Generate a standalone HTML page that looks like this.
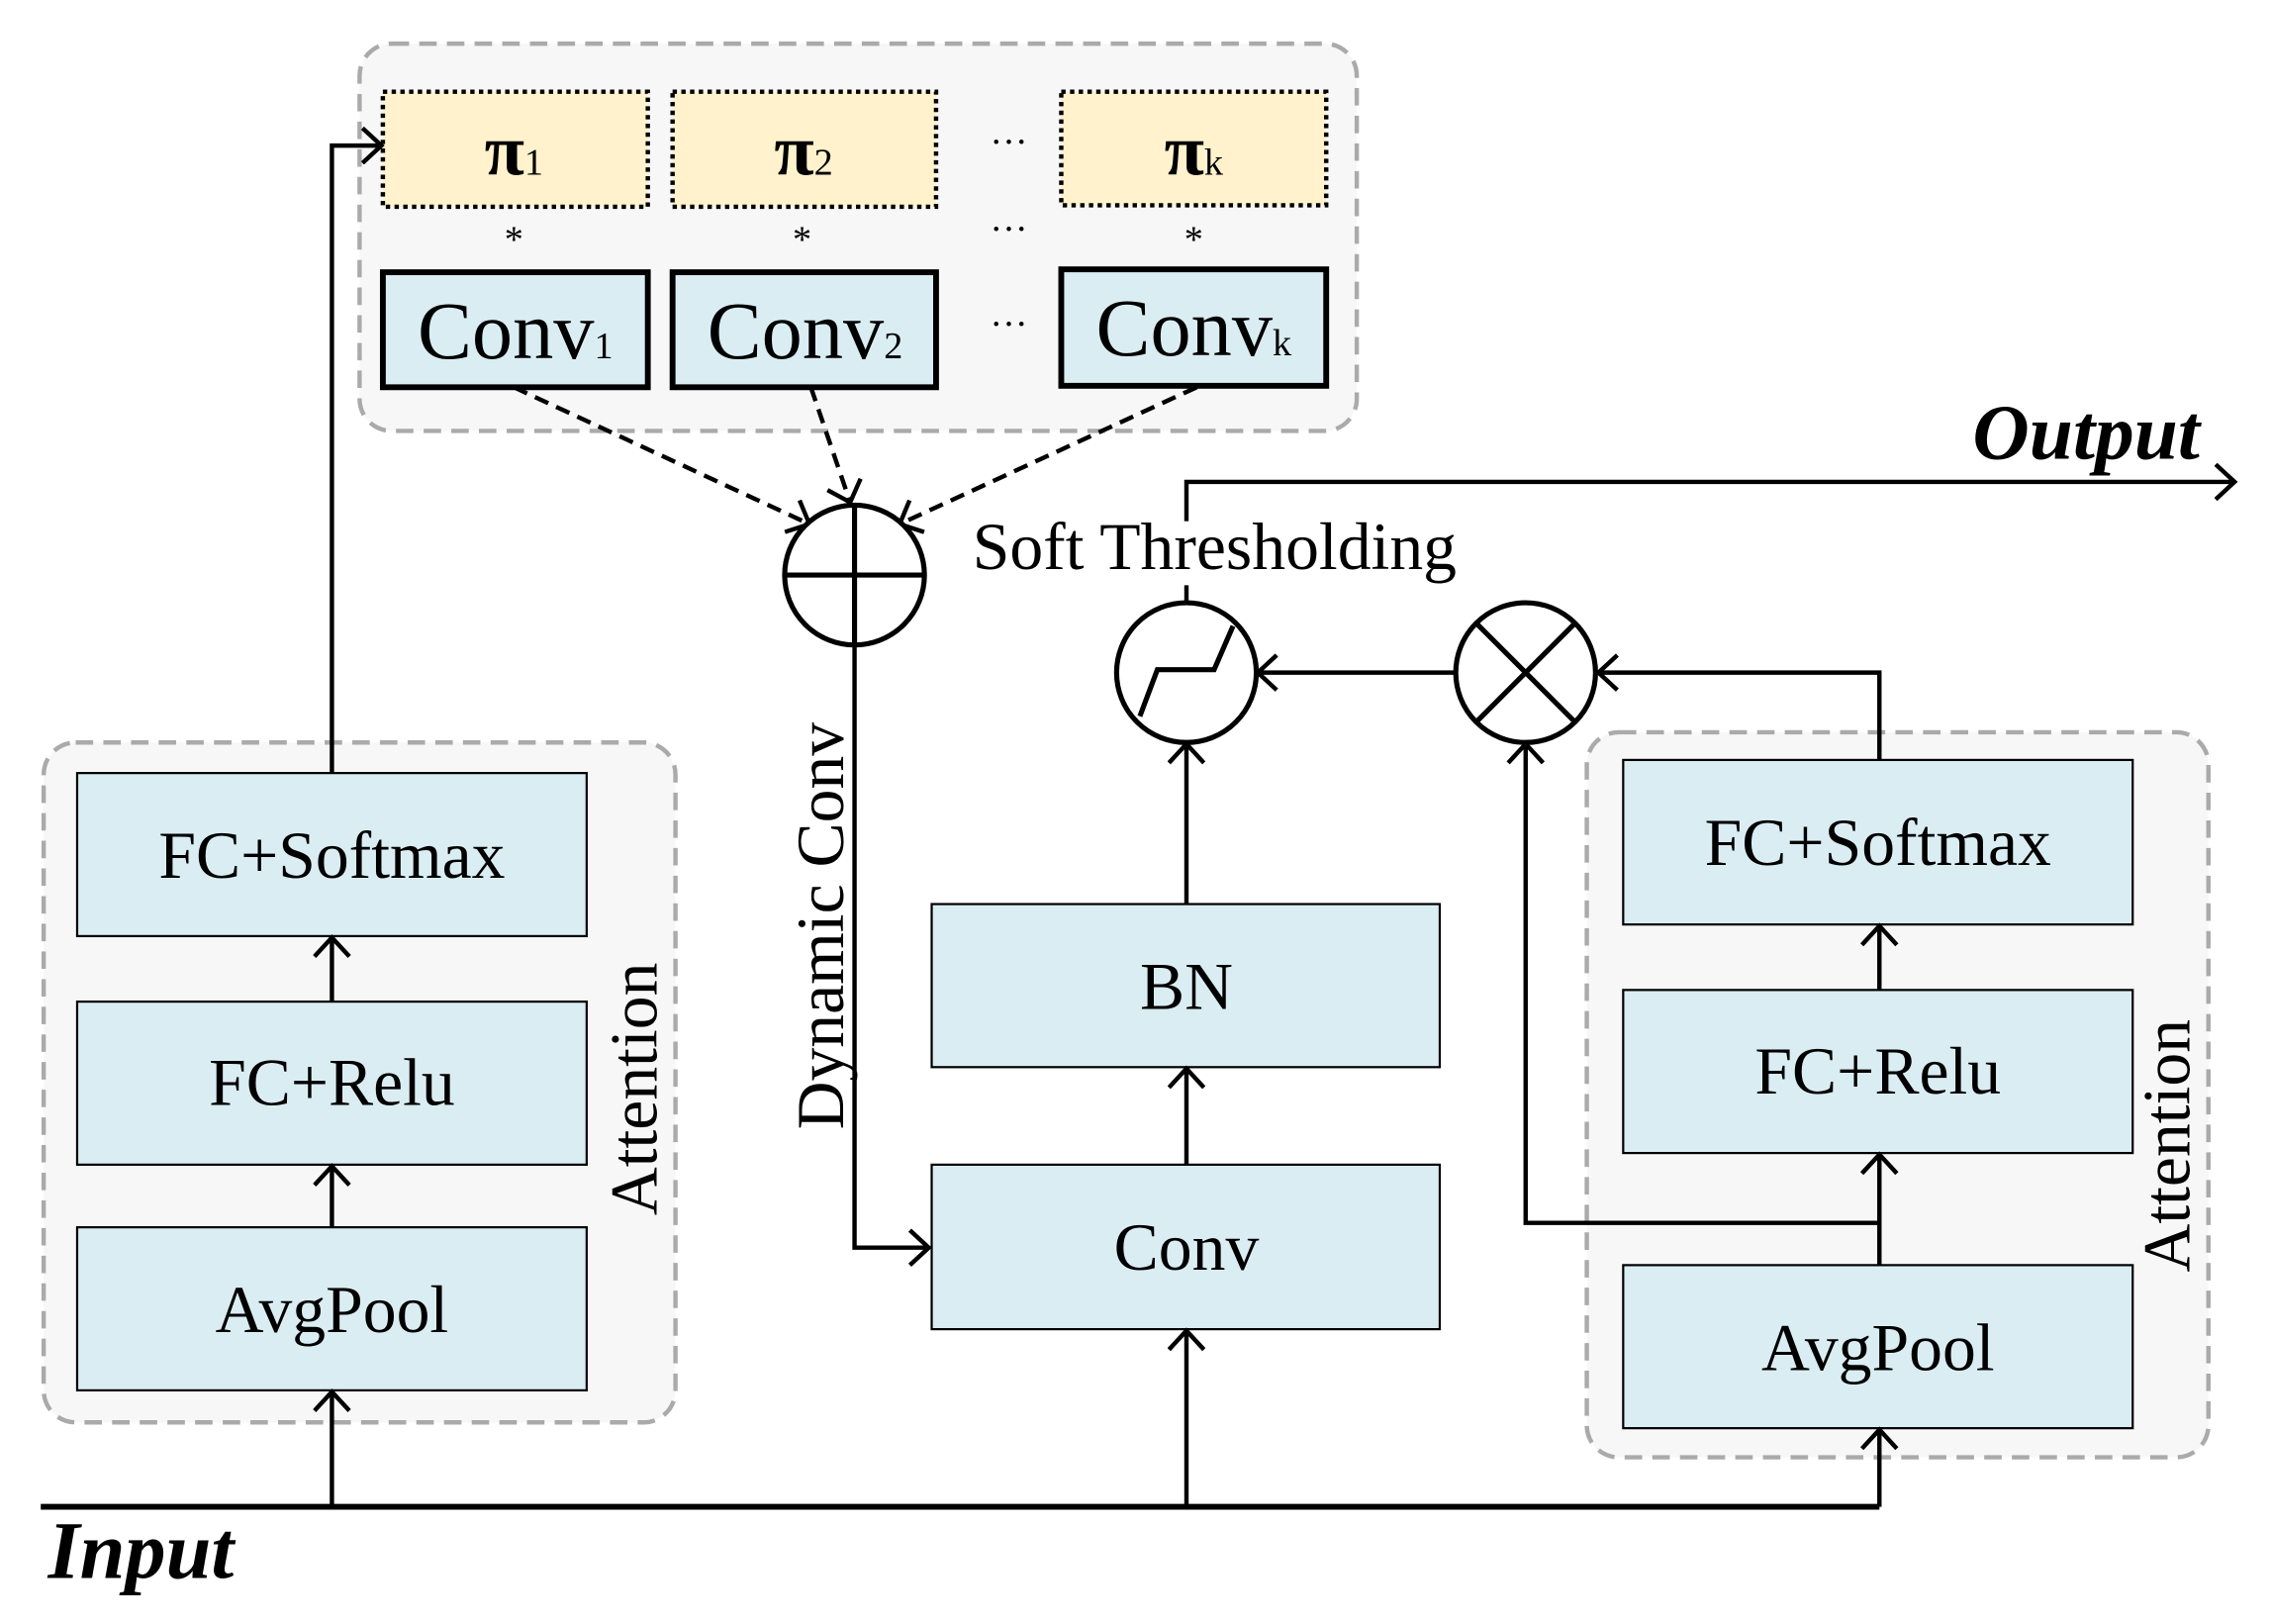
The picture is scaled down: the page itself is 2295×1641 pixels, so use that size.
<!DOCTYPE html>
<html><head><style>html,body{margin:0;padding:0;background:#fff}svg{display:block}</style></head><body>
<svg width="2295" height="1641" viewBox="0 0 1560 1115.5" preserveAspectRatio="none" xmlns="http://www.w3.org/2000/svg" font-family="Liberation Serif, serif">
<defs>
<marker id="a" markerWidth="24" markerHeight="26" refX="16" refY="13" orient="auto" markerUnits="userSpaceOnUse"><path d="M3,1 L16,13 L3,25" fill="none" stroke="#000" stroke-width="3"/></marker>
</defs>
<rect x="247" y="30" width="685" height="266" rx="22" fill="#f7f7f7" stroke="#aaa" stroke-width="3" stroke-dasharray="12,7"/>
<rect x="30" y="510" width="434" height="467" rx="22" fill="#f7f7f7" stroke="#aaa" stroke-width="3" stroke-dasharray="12,7"/>
<rect x="1090" y="503" width="427" height="498" rx="22" fill="#f7f7f7" stroke="#aaa" stroke-width="3" stroke-dasharray="12,7"/>
<g fill="#fff2cc" stroke="#000" stroke-width="3" stroke-dasharray="3,3">
<rect x="263" y="63" width="182" height="79"/><rect x="462" y="63" width="181" height="79"/><rect x="729" y="63" width="182" height="78"/>
</g>
<g font-size="50" font-weight="bold" text-anchor="middle">
<text x="353" y="120">π<tspan font-size="26" font-weight="normal">1</tspan></text>
<text x="552" y="120">π<tspan font-size="26" font-weight="normal">2</tspan></text>
<text x="820" y="120">π<tspan font-size="26" font-weight="normal">k</tspan></text>
</g>
<g font-size="26" text-anchor="middle"><text x="353" y="173">*</text><text x="551" y="173">*</text><text x="820" y="173">*</text>
<text x="693" y="106">···</text><text x="693" y="166">···</text><text x="693" y="231">···</text></g>
<g fill="#daedf3" stroke="#000" stroke-width="4">
<rect x="263" y="187" width="182" height="79"/><rect x="462" y="187" width="181" height="79"/><rect x="729" y="185" width="182" height="80"/>
</g>
<g font-size="56" text-anchor="middle">
<text x="354" y="246">Conv<tspan font-size="26">1</tspan></text>
<text x="553" y="246">Conv<tspan font-size="26">2</tspan></text>
<text x="820" y="244">Conv<tspan font-size="26">k</tspan></text>
</g>
<g stroke="#000" stroke-width="3" stroke-dasharray="10,6" fill="none" marker-end="url(#a)">
<line x1="353" y1="266" x2="556" y2="360"/><line x1="557" y1="266" x2="584" y2="345"/><line x1="822" y1="266" x2="618" y2="360"/>
</g>
<circle cx="587" cy="395" r="48" fill="#fff" stroke="#000" stroke-width="3.5"/>
<line x1="539" y1="395" x2="635" y2="395" stroke="#000" stroke-width="3.5"/>
<line x1="587" y1="347" x2="587" y2="443" stroke="#000" stroke-width="3.5"/>
<polyline points="587,443 587,857 638,857" fill="none" stroke="#000" stroke-width="3" marker-end="url(#a)"/>
<text x="0" y="0" font-size="46" text-anchor="middle" transform="translate(579,636) rotate(-90)">Dynamic Conv</text>
<g fill="#daedf3" stroke="#000" stroke-width="1.5">
<rect x="53" y="531" width="350" height="112"/><rect x="53" y="688" width="350" height="112"/><rect x="53" y="843" width="350" height="112"/>
<rect x="640" y="621" width="349" height="112"/><rect x="640" y="800" width="349" height="113"/>
<rect x="1115" y="522" width="350" height="113"/><rect x="1115" y="680" width="350" height="112"/><rect x="1115" y="869" width="350" height="112"/>
</g>
<g font-size="46" text-anchor="middle">
<text x="228" y="603">FC+Softmax</text><text x="228" y="759">FC+Relu</text><text x="228" y="915">AvgPool</text>
<text x="815" y="693">BN</text><text x="815" y="872">Conv</text>
<text x="1290" y="594">FC+Softmax</text><text x="1290" y="751">FC+Relu</text><text x="1290" y="941">AvgPool</text>
</g>
<text font-size="46" text-anchor="middle" transform="translate(451,748) rotate(-90)">Attention</text>
<text font-size="46" text-anchor="middle" transform="translate(1504,787) rotate(-90)">Attention</text>
<g stroke="#000" stroke-width="3" fill="none">
<line x1="228" y1="1035" x2="228" y2="956" marker-end="url(#a)"/>
<line x1="228" y1="843" x2="228" y2="801" marker-end="url(#a)"/>
<line x1="228" y1="688" x2="228" y2="644" marker-end="url(#a)"/>
<polyline points="228,531 228,100 262,100" marker-end="url(#a)"/>
<line x1="28" y1="1035" x2="1291" y2="1035" stroke-width="4"/>
<line x1="815" y1="1035" x2="815" y2="914" marker-end="url(#a)"/>
<line x1="815" y1="800" x2="815" y2="734" marker-end="url(#a)"/>
<line x1="815" y1="621" x2="815" y2="511" marker-end="url(#a)"/>
<line x1="1291" y1="1035" x2="1291" y2="982" marker-end="url(#a)"/>
<line x1="1291" y1="869" x2="1291" y2="793" marker-end="url(#a)"/>
<line x1="1291" y1="680" x2="1291" y2="636" marker-end="url(#a)"/>
<polyline points="1291,522 1291,462 1098,462" marker-end="url(#a)"/>
<polyline points="1291,840 1048,840 1048,511" marker-end="url(#a)"/>
<line x1="1000" y1="462" x2="864" y2="462" marker-end="url(#a)"/>
<polyline points="815,414 815,331 1535,331" marker-end="url(#a)"/>
</g>
<circle cx="815" cy="462" r="48" fill="#fff" stroke="#000" stroke-width="3.5"/>
<polyline points="783,492 795,460 834,460 847,430" fill="none" stroke="#000" stroke-width="3.5"/>
<circle cx="1048" cy="462" r="48" fill="#fff" stroke="#000" stroke-width="3.5"/>
<line x1="1014" y1="428" x2="1082" y2="496" stroke="#000" stroke-width="3.5"/>
<line x1="1082" y1="428" x2="1014" y2="496" stroke="#000" stroke-width="3.5"/>
<rect x="810" y="358" width="12" height="44" fill="#fff"/>
<text x="668" y="391" font-size="46">Soft Thresholding</text>
<text x="1355" y="315" font-size="54" font-weight="bold" font-style="italic">Output</text>
<text x="33" y="1084" font-size="56" font-weight="bold" font-style="italic">Input</text>
</svg>
</body></html>
